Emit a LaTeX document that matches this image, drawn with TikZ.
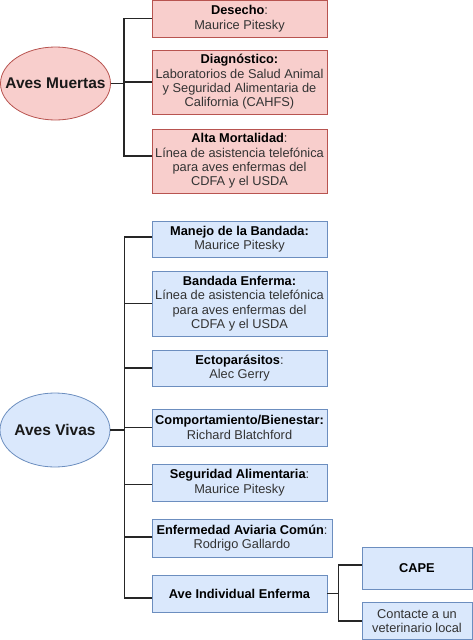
\documentclass[tikz,border=0pt]{standalone}
\usepackage{fontspec}
\setmainfont{Liberation Sans}
\usetikzlibrary{shapes.geometric,calc}
\definecolor{pinkfill}{HTML}{F8CECC}
\definecolor{pinkdraw}{HTML}{B85450}
\definecolor{bluefill}{HTML}{DAE8FC}
\definecolor{bluedraw}{HTML}{6C8EBF}
\definecolor{txt}{HTML}{333333}
\newcommand\boxtitle[1]{{\color{black}\bfseries #1}}
\begin{document}
\begin{tikzpicture}[x=1pt,y=-1pt,
 box/.style={rectangle, draw, line width=0.8pt, align=center, inner sep=0pt, font=\fontsize{12.8}{14.4}\selectfont, text=txt},
 pinkbox/.style={box, fill=pinkfill, draw=pinkdraw},
 bluebox/.style={box, fill=bluefill, draw=bluedraw},
 conn/.style={line width=1.7pt, draw=black!85},
 root/.style={ellipse, draw, line width=0.8pt, inner sep=0pt},
 roottext/.style={inner sep=0pt, font=\bfseries\fontsize{15.5}{18}\selectfont, text=black!90}]
\useasboundingbox (0,0) rectangle (473,640);

% Aves Muertas
\node[root, fill=pinkfill, draw=pinkdraw, minimum width=110pt, minimum height=73pt] (am) at (55.5,83.5) {};
\node[roottext] (amt) at (am.center) {Aves Muertas};
\node[pinkbox, minimum width=175pt, minimum height=37pt] (d1) at (239.5,18.5) {\boxtitle{Desecho}:\\Maurice Pitesky};
\node[pinkbox, minimum width=175pt, minimum height=64pt] (d2) at (239.5,82) {\boxtitle{Diagnóstico:}\\Laboratorios de Salud Animal\\y Seguridad Alimentaria de\\California (CAHFS)};
\node[pinkbox, minimum width=175pt, minimum height=64pt] (d3) at (239.5,161) {\boxtitle{Alta Mortalidad}:\\Línea de asistencia telefónica\\para aves enfermas del\\CDFA y el USDA};

\draw[conn] (am.east) -- ++(13,0) |- (d1.west);
\draw[conn] (am.east) -- ++(13,0) |- (d2.west);
\draw[conn] (am.east) -- ++(13,0) |- ($(d3.west)+(0,-5)$);

% Aves Vivas
\node[root, fill=bluefill, draw=bluedraw, minimum width=110pt, minimum height=74pt] (av) at (55,430) {};
\node[roottext] (avt) at (av.center) {Aves Vivas};
\node[bluebox, minimum width=175pt, minimum height=36pt] (v1) at (239.5,239) {\boxtitle{Manejo de la Bandada:}\\Maurice Pitesky};
\node[bluebox, minimum width=175pt, minimum height=65pt] (v2) at (239.5,303.5) {\boxtitle{Bandada Enferma:}\\Línea de asistencia telefónica\\para aves enfermas del\\CDFA y el USDA};
\node[bluebox, minimum width=175pt, minimum height=36pt] (v3) at (239.5,368) {\boxtitle{Ectoparásitos}:\\Alec Gerry};
\node[bluebox, minimum width=175pt, minimum height=37pt] (v4) at (239.5,427.5) {\boxtitle{Comportamiento/Bienestar:}\\Richard Blatchford};
\node[bluebox, minimum width=175pt, minimum height=37pt] (v5) at (239.5,482.5) {\boxtitle{Seguridad Alimentaria}:\\Maurice Pitesky};
\node[bluebox, minimum width=180pt, minimum height=38pt] (v6) at (242,538) {\boxtitle{Enfermedad Aviaria Común}:\\Rodrigo Gallardo};
\node[bluebox, minimum width=175pt, minimum height=37pt] (v7) at (239.5,593.5) {\boxtitle{Ave Individual Enferma}};

\draw[conn] (av.east) -- ++(14,0) |- ($(v1.west)+(0,-2)$);
\draw[conn] (av.east) -- ++(14,0) |- (v2.west);
\draw[conn] (av.east) -- ++(14,0) |- (v3.west);
\draw[conn] (av.east) -- ++(14,0) |- (v4.west);
\draw[conn] (av.east) -- ++(14,0) |- ($(v5.west)+(0,2)$);
\draw[conn] (av.east) -- ++(14,0) |- ($(v6.west)+(0,-0.7)$);
\draw[conn] (av.east) -- ++(14,0) |- ($(v7.west)+(0,4.5)$);

\node[bluebox, minimum width=110pt, minimum height=42pt] (cape) at (417,568) {\boxtitle{CAPE}};
\node[bluebox, minimum width=110pt, minimum height=37pt] (vet) at (417,621) {Contacte a un\\veterinario local};

\draw[conn] (v7.east) -- ++(11,0) |- ($(cape.west)+(0,-3)$);
\draw[conn] (v7.east) -- ++(11,0) |- (vet.west);
\end{tikzpicture}
\end{document}
